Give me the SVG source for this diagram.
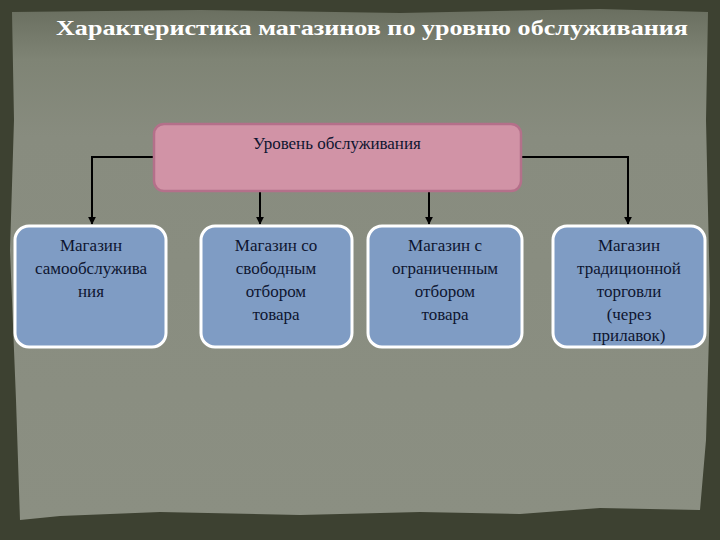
<svg xmlns="http://www.w3.org/2000/svg" width="720" height="540" viewBox="0 0 720 540">
<defs>
<style>
.box{fill:#7f9cc4;stroke:#ffffff;stroke-width:3}
.t{font-family:"Liberation Serif","DejaVu Serif",serif;font-size:17px;fill:#0e1530;text-anchor:middle}
.c{fill:none;stroke:#000;stroke-width:2}
</style>
<marker id="ah" viewBox="0 0 10 10" refX="9" refY="5" markerWidth="4" markerHeight="4" orient="auto" markerUnits="strokeWidth"><path d="M0,0 L10,5 L0,10 z" fill="#000"/></marker>
<linearGradient id="bg" x1="0" y1="0" x2="0" y2="1">
<stop offset="0" stop-color="#6a6f60"/>
<stop offset="0.1" stop-color="#7f8475"/>
<stop offset="0.25" stop-color="#888c7f"/>
<stop offset="1" stop-color="#8b8f82"/>
</linearGradient>
</defs>
<rect width="720" height="540" fill="#3d4131"/>
<path d="M12,12 L200,10 L400,13 L600,9 L708,12 L706,120 L710,300 L706,440 L700,510 L600,508 L520,514 L420,512 L300,515 L160,512 L60,516 L20,520 L16,400 L10,250 L14,120 Z" fill="url(#bg)"/>
<text x="372" y="35" font-family="Liberation Serif,DejaVu Serif,serif" font-size="22" font-weight="bold" fill="#ffffff" text-anchor="middle" textLength="632" lengthAdjust="spacingAndGlyphs">Характеристика магазинов по уровню обслуживания</text>
<g id="connectors">
<path class="c" d="M154,157 H92 V224" marker-end="url(#ah)"/>
<path class="c" d="M521,157 H628 V224" marker-end="url(#ah)"/>
<path class="c" d="M260,192 V224" marker-end="url(#ah)"/>
<path class="c" d="M429,192 V224" marker-end="url(#ah)"/>
</g>
<g id="root">
<rect x="154" y="124" width="367" height="67" rx="10" fill="#d193a6" stroke="#b4708a" stroke-width="2.5"/>
<text class="t" x="337" y="149" fill="#1a0a12">Уровень обслуживания</text>
</g>
<g id="n1">
<rect class="box" x="15" y="226" width="151" height="121" rx="14"/>
<text class="t" x="91" y="251">Магазин</text>
<text class="t" x="91" y="274">самообслужива</text>
<text class="t" x="91" y="297">ния</text>
</g>
<g id="n2">
<rect class="box" x="201" y="226" width="151" height="121" rx="14"/>
<text class="t" x="276" y="251">Магазин со</text>
<text class="t" x="276" y="274">свободным</text>
<text class="t" x="276" y="297">отбором</text>
<text class="t" x="276" y="320">товара</text>
</g>
<g id="n3">
<rect class="box" x="368" y="226" width="154" height="121" rx="14"/>
<text class="t" x="445" y="251">Магазин с</text>
<text class="t" x="445" y="274">ограниченным</text>
<text class="t" x="445" y="297">отбором</text>
<text class="t" x="445" y="320">товара</text>
</g>
<g id="n4">
<rect class="box" x="553" y="226" width="152" height="121" rx="14"/>
<text class="t" x="629" y="251">Магазин</text>
<text class="t" x="629" y="274">традиционной</text>
<text class="t" x="629" y="297">торговли</text>
<text class="t" x="629" y="320">(через</text>
<text class="t" x="629" y="341">прилавок)</text>
</g>
</svg>
